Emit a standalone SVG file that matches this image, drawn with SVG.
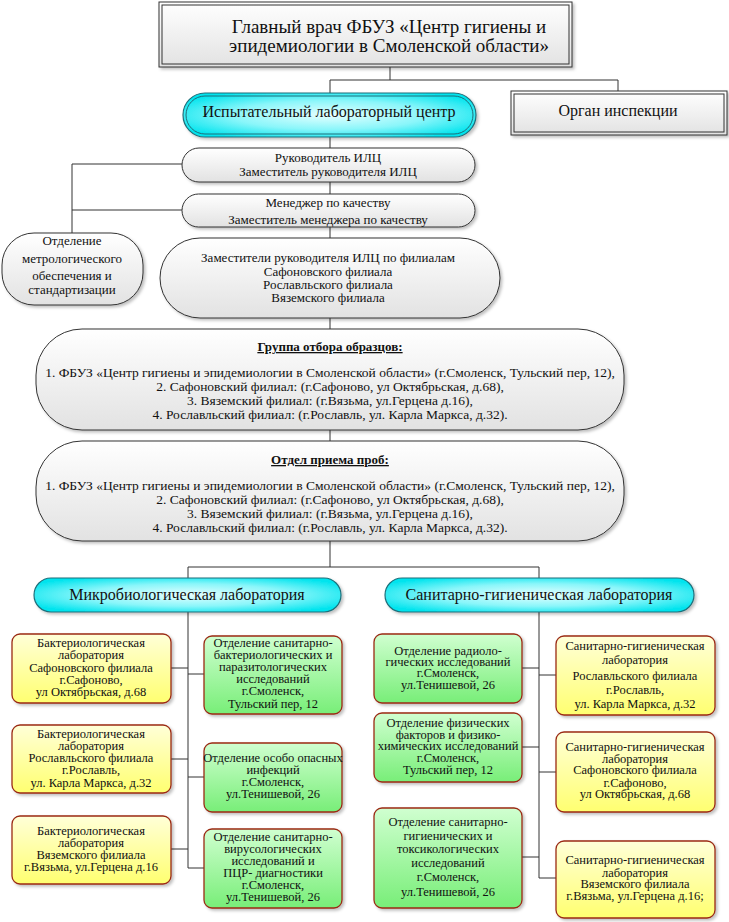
<svg xmlns="http://www.w3.org/2000/svg" width="729" height="922" viewBox="0 0 729 922" font-family="'Liberation Serif', 'DejaVu Serif', serif">
<defs>
<linearGradient id="gGrey" x1="0" y1="0" x2="0" y2="1"><stop offset="0" stop-color="#ffffff"/><stop offset="1" stop-color="#e2e2e2"/></linearGradient>
<radialGradient id="gCyan" cx="0.5" cy="0.5" r="0.6"><stop offset="0" stop-color="#e6ffff"/><stop offset="0.55" stop-color="#8af6fa"/><stop offset="1" stop-color="#00e4ee"/></radialGradient>
<linearGradient id="gYel" x1="0" y1="0" x2="0" y2="1"><stop offset="0" stop-color="#ffffd8"/><stop offset="1" stop-color="#ffff70"/></linearGradient>
<linearGradient id="gGrn" x1="0" y1="0" x2="0" y2="1"><stop offset="0" stop-color="#d0ffd0"/><stop offset="1" stop-color="#78ee78"/></linearGradient>
<filter id="sh" x="-10%" y="-10%" width="125%" height="130%"><feDropShadow dx="2" dy="2" stdDeviation="1.5" flood-color="#000" flood-opacity="0.25"/></filter>
</defs>
<style>
text{font-family:'Liberation Serif','DejaVu Serif',serif;fill:#111;text-anchor:middle}
.grey{fill:url(#gGrey);stroke:#333;stroke-width:1}
.frame{fill:none;stroke:#333;stroke-width:1}
.cyan{fill:url(#gCyan);stroke:#1f6f7a;stroke-width:1.2}
.yel{fill:url(#gYel);stroke:#9a2a14;stroke-width:1.3}
.grn{fill:url(#gGrn);stroke:#9a2a14;stroke-width:1.3}
.t12{font-size:12.5px}
.t13{font-size:13px}
.t16{font-size:16px}
.t19{font-size:19px}
.grp{font-size:13.5px}
.ttl{font-size:13px;font-weight:bold;text-decoration:underline}
.con{fill:none;stroke:#333;stroke-width:1}
</style>

<g id="connectors">
<path class="con" d="M390 67V80M330 80H618M330 80V93M618 80V91"/>
<path class="con" d="M330 137V148M330 182V194M330 227V238M330 318V329M330 430V441M330 541V567M188 567H539M188 567V578M539 567V578"/>
<path class="con" d="M72 164H182M72 164V233M72 210H182"/>
<path class="con" d="M188 612V868M171 668H188M188 674H204M171 759H188M188 777H204M171 849H188M188 868H204"/>
<path class="con" d="M539 612V878M522 668H539M539 675H556M522 747H539M539 772H556M522 857H539M539 878H556"/>
</g>

<g id="chief">
<rect class="grey" x="159" y="2" width="413" height="65" filter="url(#sh)"/>
<rect class="frame" x="162" y="5" width="407" height="59"/>
<text class="t19" x="389" y="33">Главный врач ФБУЗ «Центр гигиены и</text>
<text class="t19" x="389" y="52">эпидемиологии в Смоленской области»</text>
</g>

<g id="inspection">
<rect class="grey" x="511" y="91" width="216" height="44" filter="url(#sh)"/>
<rect class="frame" x="514" y="94" width="210" height="38"/>
<text class="t16" x="618" y="116">Орган инспекции</text>
</g>

<g id="ilc">
<rect class="cyan" x="183" y="93" width="293" height="44" rx="22" filter="url(#sh)"/>
<rect fill="none" stroke="#1f6f7a" stroke-width="1" x="186" y="96" width="287" height="38" rx="19"/>
<text class="t16" x="329" y="116.5">Испытательный лабораторный центр</text>
</g>

<g id="head">
<rect class="grey" x="182" y="148" width="293" height="34" rx="17" filter="url(#sh)"/>
<text class="t13" x="328" y="161.5">Руководитель ИЛЦ</text>
<text class="t13" x="328" y="175.5">Заместитель руководителя ИЛЦ</text>
</g>

<g id="quality">
<rect class="grey" x="182" y="194" width="293" height="33" rx="16.5" filter="url(#sh)"/>
<text class="t13" x="328" y="206.5">Менеджер по качеству</text>
<text class="t13" x="328" y="223.5">Заместитель менеджера по качеству</text>
</g>

<g id="deputies">
<rect class="grey" x="160" y="238" width="340" height="80" rx="40" filter="url(#sh)"/>
<text class="t13" x="328" y="261.5">Заместители руководителя ИЛЦ по филиалам</text>
<text class="t13" x="328" y="275.5">Сафоновского филиала</text>
<text class="t13" x="328" y="288.5">Рославльского филиала</text>
<text class="t13" x="328" y="301.5">Вяземского филиала</text>
</g>

<g id="metrology">
<rect class="grey" x="2" y="233" width="141" height="72" rx="32" filter="url(#sh)"/>
<text class="t13" x="72" y="244.5">Отделение</text>
<text class="t13" x="72" y="262.5">метрологического</text>
<text class="t13" x="72" y="279.5">обеспечения и</text>
<text class="t13" x="72" y="293.5">стандартизации</text>
</g>

<g id="sampling">
<rect class="grey" x="36" y="329" width="588" height="101" rx="46" filter="url(#sh)"/>
<text class="ttl" x="330" y="351">Группа отбора образцов:</text>
<text class="grp" x="330" y="377">1. ФБУЗ «Центр гигиены и эпидемиологии в Смоленской области» (г.Смоленск, Тульский пер, 12),</text>
<text class="grp" x="330" y="391">2. Сафоновский филиал: (г.Сафоново, ул Октябрьская, д.68),</text>
<text class="grp" x="330" y="405">3. Вяземский филиал: (г.Вязьма, ул.Герцена д.16),</text>
<text class="grp" x="330" y="419">4. Рославльский филиал: (г.Рославль, ул. Карла Маркса, д.32).</text>
</g>

<g id="reception">
<rect class="grey" x="36" y="441" width="588" height="100" rx="46" filter="url(#sh)"/>
<text class="ttl" x="330" y="464">Отдел приема проб:</text>
<text class="grp" x="330" y="490">1. ФБУЗ «Центр гигиены и эпидемиологии в Смоленской области» (г.Смоленск, Тульский пер, 12),</text>
<text class="grp" x="330" y="504">2. Сафоновский филиал: (г.Сафоново, ул Октябрьская, д.68),</text>
<text class="grp" x="330" y="518">3. Вяземский филиал: (г.Вязьма, ул.Герцена д.16),</text>
<text class="grp" x="330" y="532">4. Рославльский филиал: (г.Рославль, ул. Карла Маркса, д.32).</text>
</g>

<g id="microlab">
<rect class="cyan" x="34" y="578" width="307" height="34" rx="17" filter="url(#sh)"/>
<text class="t16" x="187" y="599.5">Микробиологическая лаборатория</text>
</g>

<g id="sanlab">
<rect class="cyan" x="385" y="578" width="309" height="34" rx="17" filter="url(#sh)"/>
<text class="t16" x="539" y="599.5">Санитарно-гигиеническая лаборатория</text>
</g>

<g id="bact-safonovo">
<rect class="yel" x="12" y="634" width="159" height="69" rx="8" filter="url(#sh)"/>
<text class="t12" x="91" y="647">Бактериологическая</text>
<text class="t12" x="91" y="659">лаборатория</text>
<text class="t12" x="91" y="672">Сафоновского филиала</text>
<text class="t12" x="91" y="684">г.Сафоново,</text>
<text class="t12" x="91" y="696">ул Октябрьская, д.68</text>
</g>

<g id="bact-roslavl">
<rect class="yel" x="12" y="725" width="159" height="68" rx="8" filter="url(#sh)"/>
<text class="t12" x="91" y="738">Бактериологическая</text>
<text class="t12" x="91" y="750">лаборатория</text>
<text class="t12" x="91" y="762">Рославльского  филиала</text>
<text class="t12" x="91" y="774">г.Рославль,</text>
<text class="t12" x="91" y="787">ул. Карла Маркса, д.32</text>
</g>

<g id="bact-vyazma">
<rect class="yel" x="12" y="816" width="159" height="68" rx="8" filter="url(#sh)"/>
<text class="t12" x="91" y="835">Бактериологическая</text>
<text class="t12" x="91" y="847">лаборатория</text>
<text class="t12" x="91" y="859">Вяземского  филиала</text>
<text class="t12" x="91" y="871">г.Вязьма, ул.Герцена д.16</text>
</g>

<g id="san-bact">
<rect class="grn" x="204" y="636" width="138" height="78" rx="8" filter="url(#sh)"/>
<text class="t12" x="273" y="647">Отделение санитарно-</text>
<text class="t12" x="273" y="659">бактериологических и</text>
<text class="t12" x="273" y="671">паразитологических</text>
<text class="t12" x="273" y="683">исследований</text>
<text class="t12" x="273" y="695">г.Смоленск,</text>
<text class="t12" x="273" y="708">Тульский пер, 12</text>
</g>

<g id="dangerous">
<rect class="grn" x="204" y="743" width="138" height="69" rx="8" filter="url(#sh)"/>
<text class="t12" x="273" y="762">Отделение особо опасных</text>
<text class="t12" x="273" y="774">инфекций</text>
<text class="t12" x="273" y="786">г.Смоленск,</text>
<text class="t12" x="273" y="798">ул.Тенишевой, 26</text>
</g>

<g id="viro">
<rect class="grn" x="204" y="829" width="138" height="79" rx="8" filter="url(#sh)"/>
<text class="t12" x="273" y="841">Отделение санитарно-</text>
<text class="t12" x="273" y="853">вирусологических</text>
<text class="t12" x="273" y="865">исследований и</text>
<text class="t12" x="273" y="877">ПЦР- диагностики</text>
<text class="t12" x="273" y="889">г.Смоленск,</text>
<text class="t12" x="273" y="901">ул.Тенишевой, 26</text>
</g>

<g id="radio">
<rect class="grn" x="374" y="634" width="148" height="69" rx="8" filter="url(#sh)"/>
<text class="t12" x="448" y="655">Отделение радиоло-</text>
<text class="t12" x="448" y="666">гических исследований</text>
<text class="t12" x="448" y="677">г.Смоленск,</text>
<text class="t12" x="448" y="689">ул.Тенишевой, 26</text>
</g>

<g id="physics">
<rect class="grn" x="374" y="713" width="148" height="69" rx="8" filter="url(#sh)"/>
<text class="t12" x="448" y="727">Отделение физических</text>
<text class="t12" x="448" y="739">факторов и  физико-</text>
<text class="t12" x="448" y="750">химических исследований</text>
<text class="t12" x="448" y="762">г.Смоленск,</text>
<text class="t12" x="448" y="774">Тульский пер, 12</text>
</g>

<g id="toxic">
<rect class="grn" x="374" y="808" width="148" height="100" rx="8" filter="url(#sh)"/>
<text class="t12" x="448" y="826">Отделение санитарно-</text>
<text class="t12" x="448" y="840">гигиенических и</text>
<text class="t12" x="448" y="853">токсикологических</text>
<text class="t12" x="448" y="867">исследований</text>
<text class="t12" x="448" y="881">г.Смоленск,</text>
<text class="t12" x="448" y="896">ул.Тенишевой, 26</text>
</g>

<g id="san-roslavl">
<rect class="yel" x="556" y="636" width="159" height="79" rx="8" filter="url(#sh)"/>
<text class="t12" x="635" y="650">Санитарно-гигиеническая</text>
<text class="t12" x="635" y="664">лаборатория</text>
<text class="t12" x="635" y="680">Рославльского филиала</text>
<text class="t12" x="635" y="694">г.Рославль,</text>
<text class="t12" x="635" y="708">ул. Карла Маркса, д.32</text>
</g>

<g id="san-safonovo">
<rect class="yel" x="556" y="732" width="159" height="80" rx="8" filter="url(#sh)"/>
<text class="t12" x="635" y="751">Санитарно-гигиеническая</text>
<text class="t12" x="635" y="763">лаборатория</text>
<text class="t12" x="635" y="774">Сафоновского филиала</text>
<text class="t12" x="635" y="787">г.Сафоново,</text>
<text class="t12" x="635" y="798">ул Октябрьская, д.68</text>
</g>

<g id="san-vyazma">
<rect class="yel" x="556" y="841" width="159" height="77" rx="8" filter="url(#sh)"/>
<text class="t12" x="635" y="864">Санитарно-гигиеническая</text>
<text class="t12" x="635" y="877">лаборатория</text>
<text class="t12" x="635" y="888">Вяземского филиала</text>
<text class="t12" x="635" y="900">г.Вязьма, ул.Герцена д.16;</text>
</g>
</svg>
